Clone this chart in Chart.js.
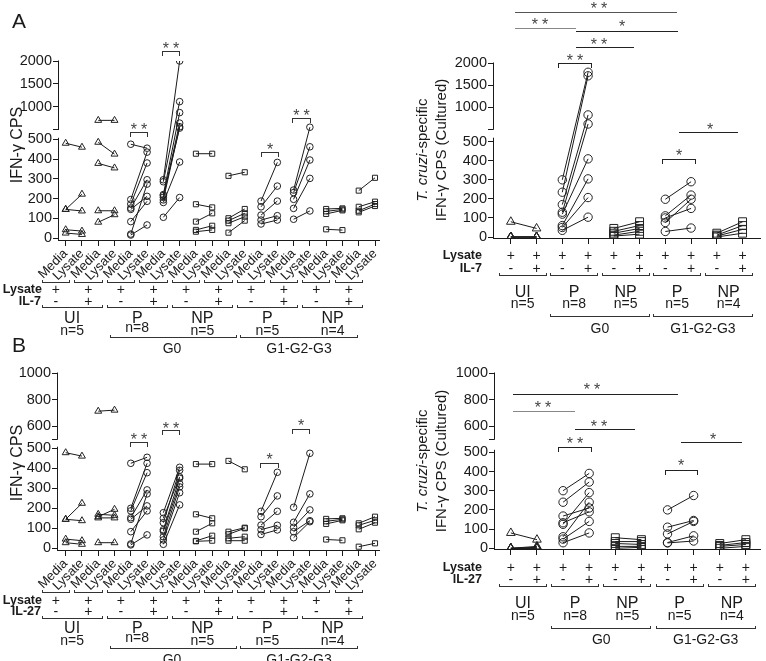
<!DOCTYPE html>
<html><head><meta charset="utf-8">
<script src="https://cdn.jsdelivr.net/npm/chart.js@4.4.1/dist/chart.umd.min.js"></script>
<style>
html,body{margin:0;padding:0;background:#fff;}
#root{position:relative;width:766px;height:661px;overflow:hidden;}
canvas{position:absolute;}
svg{position:absolute;left:0;top:0;pointer-events:none;}
</style></head><body><div id="root"></div>
<script>
// ---------------- DATA ----------------
const X_LEFT = ['Media','Lysate','Media','Lysate','Media','Lysate','Media','Lysate','Media','Lysate',
                'Media','Lysate','Media','Lysate','Media','Lysate','Media','Lysate','Media','Lysate'];
const GROUPS = ['UI','P','NP','P','NP'];
const GROUP_N = [5,8,5,5,4];
const Y_TICKS_A = [0,100,200,300,400,500,1000,1500,2000];
const Y_TICKS_B = [0,100,200,300,400,500,600,800,1000];

// Panel A (left) IFN-γ CPS, each donor = [Media, Lysate]
const AL_UI       = [[480,460],[145,222],[145,137],[42,35],[25,18]];
const AL_UI_IL7   = [[700,700],[485,425],[378,355],[138,138],[80,118]];
const AL_P        = [[475,455],[195,435],[172,380],[152,295],[145,211],[83,186],[20,273],[15,66]];
const AL_P_IL7    = [[105,205],[180,385],[295,2000],[285,1110],[220,870],[206,640],[193,560],[215,530]];
const AL_NP       = [[427,427],[171,155],[83,125],[41,62],[32,41]];
const AL_NP_IL7   = [[315,333],[100,147],[88,125],[75,108],[27,88]];
const AL_G1P      = [[187,383],[158,263],[116,187],[91,113],[71,91]];
const AL_G1P_IL7  = [[243,550],[230,462],[196,395],[150,302],[95,137]];
const AL_G1NP     = [[147,150],[135,145],[122,140],[44,40]];
const AL_G1NP_IL7 = [[240,305],[158,184],[138,172],[130,162]];

// Panel A (right) T. cruzi-specific IFN-γ CPS, each donor = [Lysate, Lysate+IL-7]
const AR_UI   = [[80,45],[0,0],[0,0],[0,0],[0,0]];
const AR_G0P  = [[300,1790],[235,1710],[170,825],[130,620],[120,410],[60,305],[50,207],[35,104]];
const AR_G0NP = [[45,80],[30,60],[20,45],[10,30],[5,15]];
const AR_G1P  = [[198,290],[111,220],[100,150],[76,198],[29,47]];
const AR_G1NP = [[20,80],[10,60],[5,40],[0,20]];

// Panel B (left) IFN-γ CPS, each donor = [Media, Lysate]
const BL_UI        = [[478,461],[145,225],[145,138],[46,38],[28,20]];
const BL_UI_IL27   = [[712,720],[170,165],[158,195],[152,152],[28,28]];
const BL_P         = [[425,455],[200,425],[187,378],[153,292],[145,212],[83,187],[22,272],[17,67]];
const BL_P_IL27    = [[178,405],[150,357],[128,390],[93,350],[85,323],[58,307],[42,278],[20,217]];
const BL_NP        = [[421,421],[170,150],[83,125],[37,63],[35,38]];
const BL_NP_IL27   = [[437,395],[83,103],[70,100],[50,58],[38,38]];
const BL_G1P       = [[185,380],[158,262],[116,185],[93,115],[69,92]];
const BL_G1P_IL27  = [[205,475],[130,272],[105,192],[83,138],[53,133]];
const BL_G1NP      = [[147,150],[135,145],[122,140],[44,40]];
const BL_G1NP_IL27 = [[125,158],[115,140],[95,128],[8,25]];

// Panel B (right) T. cruzi-specific IFN-γ CPS, each donor = [Lysate, Lysate+IL-27]
const BR_UI   = [[80,45],[0,10],[0,5],[0,0],[0,0]];
const BR_G0P  = [[300,390],[240,345],[168,210],[133,190],[125,290],[60,240],[48,140],[29,80]];
const BR_G0NP = [[55,45],[35,35],[25,20],[10,10],[0,5]];
const BR_G1P  = [[200,275],[110,145],[75,140],[30,65],[28,38]];
const BR_G1NP = [[25,45],[15,30],[10,20],[0,10]];

const LEFT_STYLES  = ['triangle','triangle','circle','circle','rect','rect','circle','circle','rect','rect'];
const RIGHT_STYLES = ['triangle','circle','rect','circle','rect'];

// ---------------- SETUP ----------------
const FONT = "'Liberation Sans', Arial, Helvetica, sans-serif";
Chart.defaults.font.family = FONT;
Chart.defaults.color = '#1a1a1a';
const root = document.getElementById('root');
const BRK = {};

class BrokenScale extends Chart.LinearScale {
  static id = 'broken';
  static defaults = {};
  buildTicks() {
    const b = BRK[this.chart.canvas.id];
    this.start = this.min; this.end = this.max;
    return b.ticks.map(v => ({value: v}));
  }
  getPixelForValue(v) {
    const b = BRK[this.chart.canvas.id];
    const low0 = this.bottom - b.pad;
    if (v <= b.lowMax) return low0 - (v / b.lowMax) * b.lowH;
    const up0 = low0 - b.lowH - b.gap;
    return up0 - (v - b.lowMax) / (b.max - b.lowMax) * (up0 - this.top);
  }
  getValueForPixel(p) {
    const b = BRK[this.chart.canvas.id];
    const low0 = this.bottom - b.pad;
    const up0 = low0 - b.lowH - b.gap;
    if (p >= low0 - b.lowH) return (low0 - p) / b.lowH * b.lowMax;
    return b.lowMax + (up0 - p) / (up0 - this.top) * (b.max - b.lowMax);
  }
}
Chart.register(BrokenScale);

const axisPlugin = {
  id: 'brokenAxes',
  afterDraw(chart) {
    const b = BRK[chart.canvas.id];
    const ctx = chart.ctx, y = chart.scales.y, a = chart.chartArea;
    ctx.save();
    ctx.strokeStyle = '#1a1a1a'; ctx.lineWidth = 1;
    const ax = Math.round(a.left) + 0.5;
    const upB = y.getPixelForValue(b.lowMax + 1e-6);
    const lowT = y.getPixelForValue(b.lowMax) - b.lowExt;
    const by = Math.round(a.bottom) + 0.5;
    ctx.beginPath();
    ctx.moveTo(ax, a.top - 0.5); ctx.lineTo(ax, upB + 0.5);
    ctx.moveTo(ax, lowT); ctx.lineTo(ax, by);
    ctx.moveTo(a.left, by); ctx.lineTo(b.axisEnd - b.offX, by);
    ctx.stroke();
    ctx.restore();
  }
};

function makePanel(p) {
  const padL = 4, padR = 4, padT = 12, padB = 2;
  const cv = document.createElement('canvas');
  cv.id = p.id;
  const left = p.areaL - p.yW - padL, top = p.areaT - padT;
  const width = p.areaR + padR - left, height = p.areaB + p.xH + padB - top;
  cv.width = width; cv.height = height;
  cv.style.left = left + 'px'; cv.style.top = top + 'px';
  cv.style.width = width + 'px'; cv.style.height = height + 'px';
  root.appendChild(cv);
  BRK[p.id] = Object.assign({}, p.brk, {offX: left, axisEnd: p.axisEnd});
  const xMin = -(p.tick0 - p.areaL) / p.ppu;
  const xMax = xMin + (p.areaR - p.areaL) / p.ppu;
  const nTicks = p.blocks.length * 2;
  const datasets = [];
  p.blocks.forEach((blk, k) => {
    const st = p.styles[k];
    blk.forEach(pair => datasets.push({
      data: [{x: 2*k, y: pair[0]}, {x: 2*k+1, y: pair[1]}],
      borderColor: '#1a1a1a', borderWidth: 1,
      pointStyle: st, pointRadius: p.radius[st], pointBorderWidth: 1,
      pointBorderColor: '#222', pointBackgroundColor: 'rgba(0,0,0,0)'
    }));
  });
  const chart = new Chart(cv, {
    type: 'line',
    data: {datasets},
    options: {
      responsive: false, animation: false, devicePixelRatio: 1,
      layout: {padding: {left: padL, right: padR, top: padT, bottom: padB}},
      plugins: {legend: {display: false}, tooltip: {enabled: false}},
      scales: {
        x: {
          type: 'linear', min: xMin, max: xMax,
          afterBuildTicks: s => { s.ticks = Array.from({length: nTicks}, (_, i) => ({value: i})); },
          afterFit: s => { s.height = p.xH; },
          border: {display: false},
          grid: {drawOnChartArea: false, drawTicks: true, tickLength: 6, color: '#1a1a1a', lineWidth: 1},
          ticks: {display: !!p.labels, autoSkip: false, minRotation: 45, maxRotation: 45, padding: 0,
                  font: {size: 13}, color: '#1a1a1a', callback: v => p.labels ? p.labels[v] : ''}
        },
        y: {
          type: 'broken', min: 0, max: p.brk.max,
          afterFit: s => { s.width = p.yW; },
          border: {display: false},
          grid: {drawOnChartArea: false, drawTicks: true, tickLength: 5, color: '#1a1a1a', lineWidth: 1},
          ticks: {autoSkip: false, padding: 1, font: {size: 14.5}, color: '#1a1a1a',
                  callback: v => (v > p.brk.lowMax && v < p.brk.lowMax + 0.01) ? '' : String(v)}
        }
      }
    },
    plugins: [axisPlugin]
  });
  chart._offX = left;
  return chart;
}

const SMALL = {circle: 3.3, triangle: 4, rect: 3.6};
const BIG = {circle: 4.2, triangle: 5, rect: 5.6};

const cAL = makePanel({id: 'cAL', areaL: 58, areaR: 386, areaT: 61, areaB: 240, tick0: 65.7, ppu: 16.33,
  axisEnd: 380, yW: 48, xH: 48, labels: X_LEFT, styles: LEFT_STYLES, radius: SMALL,
  blocks: [AL_UI, AL_UI_IL7, AL_P, AL_P_IL7, AL_NP, AL_NP_IL7, AL_G1P, AL_G1P_IL7, AL_G1NP, AL_G1NP_IL7],
  brk: {ticks: [0,100,200,300,400,500,500.000001,1000,1500,2000], max: 2000, lowMax: 500, pad: 2, lowH: 98.7, gap: 9.8, lowExt: 1.5}});
const cAR = makePanel({id: 'cAR', areaL: 493, areaR: 762, areaT: 63, areaB: 238, tick0: 511, ppu: 26,
  axisEnd: 761, yW: 48, xH: 8, labels: null, styles: RIGHT_STYLES, radius: BIG,
  blocks: [AR_UI, AR_G0P, AR_G0NP, AR_G1P, AR_G1NP],
  brk: {ticks: [0,100,200,300,400,500,500.000001,1000,1500,2000], max: 2000, lowMax: 500, pad: 1, lowH: 95.3, gap: 12.4, lowExt: 4}});
const cBL = makePanel({id: 'cBL', areaL: 57, areaR: 386, areaT: 373, areaB: 550, tick0: 65.7, ppu: 16.33,
  axisEnd: 380, yW: 48, xH: 48, labels: X_LEFT, styles: LEFT_STYLES, radius: SMALL,
  blocks: [BL_UI, BL_UI_IL27, BL_P, BL_P_IL27, BL_NP, BL_NP_IL27, BL_G1P, BL_G1P_IL27, BL_G1NP, BL_G1NP_IL27],
  brk: {ticks: [0,100,200,300,400,500,500.000001,600,800,1000], max: 1000, lowMax: 500, pad: 1.7, lowH: 100, gap: 9, lowExt: 1.6}});
const cBR = makePanel({id: 'cBR', areaL: 494, areaR: 762, areaT: 373, areaB: 549, tick0: 511, ppu: 26.37,
  axisEnd: 761, yW: 48, xH: 8, labels: null, styles: RIGHT_STYLES, radius: BIG,
  blocks: [BR_UI, BR_G0P, BR_G0NP, BR_G1P, BR_G1NP],
  brk: {ticks: [0,100,200,300,400,500,500.000001,600,800,1000], max: 1000, lowMax: 500, pad: 0.7, lowH: 96, gap: 13, lowExt: 2.5}});

// ---------------- ANNOTATIONS (SVG text + lines) ----------------
const NS = 'http://www.w3.org/2000/svg';
const svg = document.createElementNS(NS, 'svg');
svg.setAttribute('width', 766); svg.setAttribute('height', 661);
root.appendChild(svg);

function text(s, x, y, o = {}) {
  const t = document.createElementNS(NS, 'text');
  t.setAttribute('x', x); t.setAttribute('y', y);
  t.setAttribute('text-anchor', o.anchor || 'middle');
  t.setAttribute('dominant-baseline', o.baseline || 'central');
  t.setAttribute('font-family', FONT);
  t.setAttribute('font-size', o.size || 14);
  if (o.weight) t.setAttribute('font-weight', o.weight);
  if (o.ls) t.setAttribute('letter-spacing', o.ls);
  t.setAttribute('fill', o.color || '#1a1a1a');
  if (o.rotate) t.setAttribute('transform', `rotate(${o.rotate} ${x} ${y})`);
  if (Array.isArray(s)) {
    s.forEach(part => {
      const sp = document.createElementNS(NS, 'tspan');
      if (part.italic) sp.setAttribute('font-style', 'italic');
      sp.textContent = part.t; t.appendChild(sp);
    });
  } else t.textContent = s;
  svg.appendChild(t);
  return t;
}
function seg(x1, y1, x2, y2, color) {
  const l = document.createElementNS(NS, 'line');
  l.setAttribute('x1', x1); l.setAttribute('y1', y1); l.setAttribute('x2', x2); l.setAttribute('y2', y2);
  l.setAttribute('stroke', color || '#1a1a1a'); l.setAttribute('stroke-width', 1);
  l.setAttribute('shape-rendering', 'crispEdges');
  svg.appendChild(l);
}
function bracket(x1, x2, y, tick, color) {
  const yy = Math.round(y) + 0.5;
  seg(x1, yy, x2, yy, color);
  if (tick) { seg(x1 + 0.5, yy, x1 + 0.5, yy + tick, color); seg(x2 - 0.5, yy, x2 - 0.5, yy + tick, color); }
}
function stars(s, x, y) {
  const size = 16, ls = s.length > 1 ? 4 : 0;
  text(s, x + ls / 2, y + 0.22 * size, {size, ls, color: '#444'});
}
const px = (c, i) => c.scales.x.getPixelForValue(i) + c._offX;

// panel letters and y titles
text('A', 19, 20, {size: 21});
text('B', 19, 344, {size: 21});
text('IFN-γ CPS', 16, 145, {size: 16, rotate: -90});
text('IFN-γ CPS', 16, 463, {size: 16, rotate: -90});
[[150, 0], [461, 1]].forEach(([cy]) => {
  text([{t: 'T. cruzi', italic: true}, {t: '-specific'}], 421, cy, {size: 15, rotate: -90});
  text('IFN-γ CPS (Cultured)', 440, cy, {size: 15, rotate: -90});
});

function leftRows(c, Y0, cyto) {
  const pairs = [];
  for (let k = 0; k < 10; k++) pairs.push({l: px(c, 2*k) - 24, r: px(c, 2*k+1) - 12});
  pairs.forEach((p, k) => {
    bracket(p.l, p.r, 281.7 + Y0, -3, '#333');
    const cx = (p.l + p.r) / 2;
    text('+', cx, 289.3 + Y0, {size: 14});
    text(k % 2 ? '+' : '-', cx, 300.7 + Y0, {size: 14});
  });
  text('Lysate', 42, 289.3 + Y0, {anchor: 'end', weight: 'bold', size: 12.5});
  text(cyto, 41, 300.7 + Y0, {anchor: 'end', weight: 'bold', size: 12.5});
  GROUPS.forEach((g, gi) => {
    const l = pairs[2*gi].l, r = pairs[2*gi+1].r, cx = (l + r) / 2;
    bracket(l, r, 307.3 + Y0, -3, '#333');
    text(g, cx, 317.3 + Y0, {size: 16});
    text('n=' + GROUP_N[gi], cx, (gi === 1 ? 326.5 : 329.5) + Y0, {size: 14});
  });
  bracket(110, 237, 337 + Y0, -3, '#333'); text('G0', 172, 348 + Y0, {size: 14});
  bracket(240, 358, 337 + Y0, -3, '#333'); text('G1-G2-G3', 299, 348 + Y0, {size: 14});
}
function rightRows(c, Y0, cyto) {
  text('Lysate', 482, 255 + Y0, {anchor: 'end', weight: 'bold', size: 12.5});
  text(cyto, 482, 267.5 + Y0, {anchor: 'end', weight: 'bold', size: 12.5});
  for (let i = 0; i < 10; i++) {
    text('+', px(c, i), 255 + Y0, {size: 14});
    text(i % 2 ? '+' : '-', px(c, i), 267.5 + Y0, {size: 14});
  }
  const pairs = [];
  for (let k = 0; k < 5; k++) pairs.push({l: px(c, 2*k) - 12, r: px(c, 2*k+1) + 10});
  pairs.forEach((p, k) => {
    bracket(p.l, p.r, 274.5 + Y0, -3, '#333');
    const cx = (p.l + p.r) / 2;
    text(GROUPS[k], cx, 291 + Y0, {size: 16});
    text('n=' + GROUP_N[k], cx, 303 + Y0, {size: 14});
  });
  bracket(pairs[1].l, pairs[2].r, 316 + Y0, -3, '#333');
  text('G0', (pairs[1].l + pairs[2].r) / 2, 327.5 + Y0, {size: 14});
  bracket(pairs[3].l, pairs[4].r, 316 + Y0, -3, '#333');
  text('G1-G2-G3', (pairs[3].l + pairs[4].r) / 2, 327.5 + Y0, {size: 14});
}
leftRows(cAL, 0, 'IL-7');
leftRows(cBL, 310.5, 'IL-27');
rightRows(cAR, 0, 'IL-7');
rightRows(cBR, 311.5, 'IL-27');

// significance marks: [x1, x2, y, tick, color, label, labelX, labelY]
const SIG = [
  // A left
  [130, 148, 131.7, 4, '#333', '**', 139, 125.5],
  [162, 180, 50.7, 4, '#333', '**', 171, 44.5],
  [261, 279, 152.3, 4, '#333', '*', 270, 146],
  [292, 311, 118.3, 4, '#333', '**', 301.5, 112],
  // A right
  [515, 677, 11.7, 0, '#555', '**', 599, 5],
  [515, 576, 28.3, 0, '#888', '**', 540, 21],
  [576, 678, 31, 0, '#222', '*', 622, 23],
  [576, 634, 46.7, 0, '#222', '**', 599, 40.5],
  [558, 592, 63.3, 4, '#222', '**', 575, 56.5],
  [679, 738, 132.3, 0, '#222', '*', 710, 126],
  [662, 696, 159.3, 4, '#222', '*', 679, 152],
  // B left
  [130, 148, 441.7, 4, '#333', '**', 139, 436],
  [162, 180, 430, 4, '#333', '**', 171, 424.5],
  [260, 279, 462.7, 4, '#333', '*', 269.5, 456],
  [292, 310, 429.3, 4, '#333', '*', 301, 422],
  // B right
  [513, 678, 394, 0, '#222', '**', 592, 386],
  [513, 575, 411, 0, '#888', '**', 543, 404],
  [575, 635, 429.3, 0, '#222', '**', 599, 423],
  [558, 592, 446.7, 4, '#222', '**', 575, 440],
  [681, 742, 442.3, 0, '#222', '*', 713, 436],
  [665, 698, 470, 4, '#222', '*', 681, 462]
];
SIG.forEach(s => { bracket(s[0], s[1], s[2], s[3], s[4]); stars(s[5], s[6], s[7]); });
</script>
</body></html>
